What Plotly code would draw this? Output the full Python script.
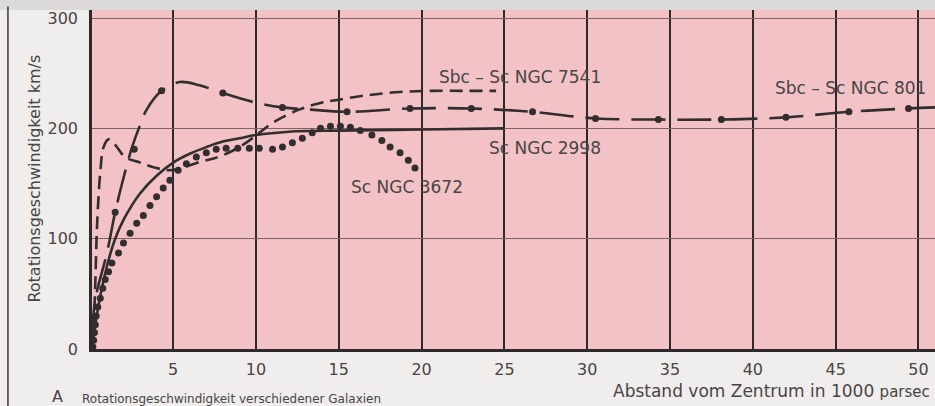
import plotly.graph_objects as go

# ---------------- data ----------------
x_2998 = [0.1, 0.5, 1, 1.5, 2, 2.5, 3, 4, 5, 6, 7, 8, 9, 10, 12, 15, 20, 25]
y_2998 = [0, 40, 75, 100, 117, 130, 141, 157, 169, 177, 183, 188, 191, 194, 197, 198, 199, 200]

x_3672 = [0.15, 0.2, 0.25, 0.3, 0.35, 0.45, 0.6, 0.75, 0.9, 1.1, 1.3, 1.7, 2.0, 2.4, 2.8, 3.2, 3.6,
          4.0, 4.4, 4.8, 5.3, 5.8, 6.4, 7.0, 7.6, 8.2, 8.9, 9.6, 10.2, 11.0, 11.6, 12.2, 12.8, 13.4,
          13.9, 14.5, 15.1, 15.7, 16.3, 17.0, 17.6, 18.1, 18.7, 19.2, 19.6]
y_3672 = [2, 8, 15, 22, 30, 38, 46, 55, 63, 70, 78, 87, 96, 105, 114, 121, 130,
          138, 146, 153, 162, 168, 174, 178, 181, 182, 182, 182, 182, 181, 183, 187, 191, 196,
          200, 202, 202, 201, 198, 194, 189, 183, 178, 171, 164]

x_7541 = [0.1, 0.2, 0.3, 0.4, 0.6, 0.8, 1.1, 1.5, 2.1, 3, 4, 4.8, 5.5, 6.7, 7.5, 8.5, 9.5, 10.2,
          11, 12.6, 13.9, 15, 16.7, 18.7, 20.7, 22.7, 24.5]
y_7541 = [0, 20, 60, 110, 160, 183, 190, 185, 174, 169, 164, 162, 164, 170, 173, 179, 188, 196,
          205, 217, 223, 226, 230, 233, 234, 234, 234]

x_801 = [0.1, 0.3, 1, 1.5, 2, 2.5, 3, 3.4, 4.3, 5.4, 6.6, 8, 9.8, 11.6, 13.3, 15.5, 19.3, 23,
         26.7, 30.5, 34.3, 38.1, 42, 45.8, 49.4, 51]
y_801 = [10, 45, 87, 124, 155, 182, 203, 217, 234, 242, 239, 232, 224, 219, 217, 215, 218, 218,
         215, 209, 208, 208, 210, 215, 218, 219]
x_801_dots = [1.5, 2.65, 4.3, 8, 11.6, 15.5, 19.3, 23, 26.7, 30.5, 34.3, 38.1, 42, 45.8, 49.4]
y_801_dots = [124, 181, 234, 232, 219, 215, 218, 218, 215, 209, 208, 208, 210, 215, 218]

x_ticks = [5, 10, 15, 20, 25, 30, 35, 40, 45, 50]
y_ticks = [0, 100, 200, 300]

labels = ["Sbc – Sc NGC 7541", "Sc NGC 2998", "Sc NGC 3672", "Sbc – Sc NGC 801"]
label_x = [25.95, 27.46, 19.12, 45.87]
label_y = [246.6, 182.2, 146.9, 236.6]

# ---------------- styles ----------------
INK = "#332d2f"
TXT = "#4a4446"
FONT = "DejaVu Sans"

fig = go.Figure()

fig.add_trace(go.Scatter(x=x_2998, y=y_2998, mode="lines",
                         line=dict(color=INK, width=2.6, shape="spline"), showlegend=False))
fig.add_trace(go.Scatter(x=x_7541, y=y_7541, mode="lines",
                         line=dict(color=INK, width=2.6, shape="spline", dash="13px,7px"),
                         showlegend=False))
fig.add_trace(go.Scatter(x=x_801, y=y_801, mode="lines",
                         line=dict(color=INK, width=2.6, shape="spline", dash="34px,12px"),
                         showlegend=False))
fig.add_trace(go.Scatter(x=x_801_dots, y=y_801_dots, mode="markers",
                         marker=dict(color=INK, size=7), showlegend=False))
fig.add_trace(go.Scatter(x=x_3672, y=y_3672, mode="markers",
                         marker=dict(color=INK, size=7), showlegend=False))

for t, lx, ly in zip(labels, label_x, label_y):
    fig.add_annotation(x=lx, y=ly, xref="x", yref="y", text=t, showarrow=False,
                       font=dict(family=FONT, size=17, color=TXT))

# axis titles / caption
fig.add_annotation(xref="paper", yref="paper", x=-0.0819, y=0.504, text="Rotationsgeschwindigkeit km/s",
                   textangle=-90, showarrow=False, font=dict(family=FONT, size=16, color=TXT))
fig.add_annotation(xref="paper", yref="paper", x=1, xanchor="right", xshift=-3, y=-0.124,
                   yanchor="middle",
                   text="Abstand vom Zentrum in 1000 <span style='font-size:15px'>parsec</span>",
                   showarrow=False, font=dict(family=FONT, size=17, color=TXT))
fig.add_annotation(xref="paper", yref="paper", x=-0.0498, xanchor="left", y=-0.107, yanchor="top",
                   text="A", showarrow=False, font=dict(family=FONT, size=16, color=TXT))
fig.add_annotation(xref="paper", yref="paper", x=-0.0142, xanchor="left", y=-0.12, yanchor="top",
                   text="Rotationsgeschwindigkeit verschiedener Galaxien", showarrow=False,
                   font=dict(family=FONT, size=12, color=TXT))

# page decoration: top grey strip and frame line
fig.add_shape(type="rect", xref="paper", yref="paper", x0=-0.12, x1=1.01, y0=1.0, y1=1.05,
              fillcolor="#dcdad8", line_width=0, layer="below")
fig.add_shape(type="line", xref="paper", yref="paper", x0=-0.0997, x1=-0.0997, y0=-0.2, y1=1.01,
              line=dict(color="#3a3536", width=1.5))

fig.update_layout(
    width=935, height=406,
    margin=dict(l=92, r=0, t=10, b=57),
    paper_bgcolor="#efeeec",
    plot_bgcolor="#f2c2c6",
    font=dict(family=FONT, color=TXT),
    xaxis=dict(range=[0.1, 51], tickvals=x_ticks, ticktext=[str(v) for v in x_ticks],
               showgrid=True, gridcolor="#2e2a2b", gridwidth=1.5, zeroline=False,
               showline=True, linecolor="#2e2a2b", linewidth=2.5,
               ticks="outside", ticklen=4, tickcolor="rgba(0,0,0,0)",
               tickfont=dict(family=FONT, size=16, color=TXT)),
    yaxis=dict(range=[0, 307.3], tickvals=y_ticks, ticktext=[str(v) for v in y_ticks],
               showgrid=True, gridcolor="#7d6264", gridwidth=1.2, zeroline=False,
               showline=True, linecolor="#2e2a2b", linewidth=2.5,
               ticks="outside", ticklen=8, tickcolor="rgba(0,0,0,0)",
               tickfont=dict(family=FONT, size=16, color=TXT)),
)

fig.write_html("out.html")
